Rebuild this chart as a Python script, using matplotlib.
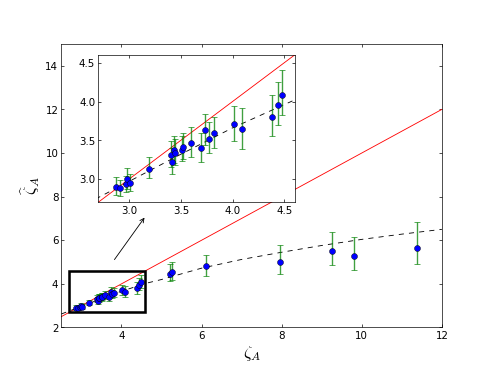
import matplotlib
matplotlib.use("Agg")
import matplotlib.pyplot as plt
from matplotlib.patches import Rectangle

plt.rcParams['mathtext.fontset'] = 'cm'
plt.rcParams['xtick.direction'] = 'in'
plt.rcParams['ytick.direction'] = 'in'
plt.rcParams['xtick.top'] = True
plt.rcParams['ytick.right'] = True
plt.rcParams['font.size'] = 12

zeta = [2.87, 2.91, 2.97, 2.98, 3.01, 3.19, 3.40, 3.41, 3.43, 3.44, 3.51, 3.52,
        3.60, 3.69, 3.73, 3.77, 3.82, 4.01, 4.09, 4.38, 4.44, 4.48,
        5.22, 5.25, 6.10, 7.96, 9.26, 9.80, 11.39]
zeta_hat = [2.90, 2.88, 2.93, 3.00, 2.95, 3.13, 3.31, 3.22, 3.37, 3.34, 3.38, 3.41,
            3.47, 3.40, 3.63, 3.52, 3.59, 3.71, 3.64, 3.80, 3.96, 4.09,
            4.47, 4.55, 4.81, 5.01, 5.50, 5.26, 5.65]
err_lo = [0.11, 0.10, 0.10, 0.13, 0.10, 0.12, 0.16, 0.16, 0.16, 0.16, 0.15, 0.15,
          0.18, 0.18, 0.19, 0.19, 0.19, 0.22, 0.25, 0.25, 0.26, 0.27,
          0.35, 0.35, 0.43, 0.54, 0.63, 0.62, 0.74]
err_hi = [0.12, 0.11, 0.11, 0.14, 0.11, 0.15, 0.18, 0.18, 0.18, 0.18, 0.18, 0.18,
          0.20, 0.20, 0.21, 0.21, 0.21, 0.23, 0.28, 0.28, 0.29, 0.31,
          0.45, 0.45, 0.50, 0.78, 0.86, 0.91, 1.20]

# fitted trend (dashed)
fit_x = [2.5, 2.7, 3.0, 3.5, 4.0, 4.6, 5.0, 6.0, 7.0, 8.0, 9.0, 10.0, 11.0, 12.0]
fit_y = [2.62, 2.76, 2.97, 3.32, 3.66, 4.02, 4.20, 4.72, 5.12, 5.45, 5.76, 6.04, 6.28, 6.50]

# identity line
ident = [2.0, 15.0]

zoom_lim = (2.7, 4.6)


def draw(ax):
    ax.plot(ident, ident, color='r', lw=1)
    ax.plot(fit_x, fit_y, color='k', ls='--', dashes=(6, 6), lw=1)
    ax.errorbar(zeta, zeta_hat, yerr=[err_lo, err_hi], fmt='none', ecolor='g',
                elinewidth=1.6, capsize=3, alpha=0.75)
    ax.plot(zeta, zeta_hat, 'o', color='b', markeredgecolor='k',
            markeredgewidth=0.5, markersize=7)


fig = plt.figure(figsize=(8, 6), dpi=61.375)
ax = fig.add_subplot(111)
draw(ax)
ax.set_xlim(2.5, 12)
ax.set_ylim(2, 15)
ax.set_xticks([4, 6, 8, 10, 12])
ax.set_yticks([2, 4, 6, 8, 10, 12, 14])
ax.set_xlabel(r'$\zeta_A$', fontsize=20)
ax.set_ylabel(r'$\widehat{\zeta}_A$', fontsize=20)

ax.add_patch(Rectangle((zoom_lim[0], zoom_lim[0]), zoom_lim[1] - zoom_lim[0],
                       zoom_lim[1] - zoom_lim[0], fill=False, ec='k', lw=3, zorder=5))
ax.annotate('', xy=(4.6, 7.1), xytext=(3.8, 5.05),
            arrowprops=dict(arrowstyle='->', color='k', lw=1))

axins = fig.add_axes([0.2, 0.45, 0.4, 0.4])
draw(axins)
axins.set_xlim(*zoom_lim)
axins.set_ylim(*zoom_lim)
axins.set_xticks([3.0, 3.5, 4.0, 4.5])
axins.set_yticks([3.0, 3.5, 4.0, 4.5])

fig.savefig('out.png', dpi=61.375)
